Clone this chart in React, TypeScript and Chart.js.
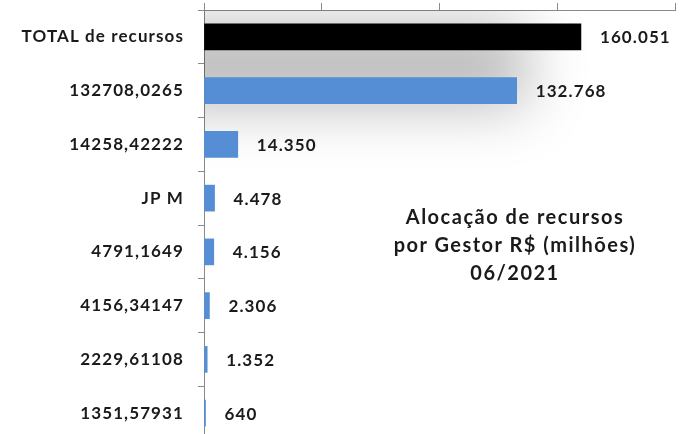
import React, { useEffect, useRef } from "react";
import { Chart, registerables } from "chart.js";

Chart.register(...registerables);

const categories = [
  "TOTAL de recursos",
  "132708,0265",
  "14258,42222",
  "JP M",
  "4791,1649",
  "4156,34147",
  "2229,61108",
  "1351,57931",
];
const values = [160051, 132768, 14350, 4478, 4156, 2306, 1352, 640];
const barColors = [
  "#000000",
  "#558ED5",
  "#558ED5",
  "#558ED5",
  "#558ED5",
  "#558ED5",
  "#558ED5",
  "#558ED5",
];
const titleLines = ["Alocação de recursos", "por Gestor R$ (milhões)", "06/2021"];
const xMax = 200000;
const xStep = 50000;

const FONT = "Lato, 'Open Sans', sans-serif";

function fmt(v: number): string {
  return String(Math.round(v)).replace(/\B(?=(\d{3})+(?!\d))/g, ".");
}

const spacingPlugin = {
  id: "spacing",
  beforeDraw(chart: any) {
    (chart.ctx as any).letterSpacing = "1.1px";
  },
};

const glowPlugin = {
  id: "glow",
  beforeDatasetsDraw(chart: any) {
    const { ctx, chartArea } = chart;
    const xs = chart.scales.x;
    const ys = chart.scales.y;
    ctx.save();
    ctx.beginPath();
    ctx.rect(chartArea.left, chartArea.top, chartArea.right - chartArea.left, chartArea.bottom - chartArea.top);
    ctx.clip();
    const x0 = xs.getPixelForValue(0) - 60;
    const x1 = xs.getPixelForValue(values[1]) + 10;
    const y0 = ys.getPixelForValue(0) - 12;
    const y1 = ys.getPixelForValue(1) + 15;
    const off = 10000;
    ctx.shadowColor = "rgba(0,0,0,0.28)";
    ctx.shadowBlur = 60;
    ctx.shadowOffsetX = off;
    ctx.fillStyle = "#000";
    ctx.fillRect(x0 - off, y0, x1 - x0, y1 - y0);
    ctx.restore();
  },
};

const valueLabelPlugin = {
  id: "valueLabels",
  afterDatasetsDraw(chart: any) {
    const { ctx } = chart;
    const meta = chart.getDatasetMeta(0);
    ctx.save();
    ctx.font = `bold 17px ${FONT}`;
    (ctx as any).letterSpacing = "1.1px";
    ctx.fillStyle = "#1a1a1a";
    ctx.textAlign = "left";
    ctx.textBaseline = "middle";
    meta.data.forEach((bar: any, i: number) => {
      ctx.fillText(fmt(values[i]), bar.x + 19, bar.y + 1);
    });
    ctx.restore();
  },
};

export default function App() {
  const ref = useRef<HTMLCanvasElement | null>(null);
  useEffect(() => {
    if (!ref.current) return;
    const chart = new Chart(ref.current, {
      type: "bar",
      data: {
        labels: categories,
        datasets: [
          {
            data: values,
            backgroundColor: barColors,
            borderWidth: 0,
            barThickness: 26,
          },
        ],
      },
      plugins: [spacingPlugin, glowPlugin, valueLabelPlugin],
      options: {
        indexAxis: "y",
        animation: false,
        responsive: false,
        devicePixelRatio: 1,
        events: [],
        layout: { padding: { top: 3, right: 11, left: 0, bottom: 0 } },
        plugins: {
          legend: { display: false },
          tooltip: { enabled: false },
          title: { display: false },
        },
        scales: {
          x: {
            position: "top",
            min: 0,
            max: xMax,
            ticks: { display: false, stepSize: xStep },
            grid: {
              drawOnChartArea: false,
              drawTicks: true,
              tickLength: 7,
              color: "#8a8a8a",
            },
            border: { display: true, color: "#8a8a8a", width: 1 },
          },
          y: {
            position: "left",
            ticks: {
              color: "#1a1a1a",
              font: { family: FONT, size: 17, weight: "bold" },
              padding: 14,
            },
            grid: {
              drawOnChartArea: false,
              drawTicks: true,
              tickLength: 6,
              offset: true,
              color: "#8a8a8a",
            },
            border: { display: true, color: "#8a8a8a", width: 1 },
            afterFit(scale: any) {
              scale.width = 204;
              scale.paddingTop = 0;
              scale.paddingBottom = 0;
            },
          },
        },
      },
    } as any);
    return () => chart.destroy();
  }, []);

  return (
    <div
      style={{
        position: "fixed",
        top: 0,
        left: 0,
        width: 686,
        height: 434,
        overflow: "hidden",
        background: "#ffffff",
      }}
    >
      <canvas ref={ref} width={686} height={440} style={{ display: "block" }} />
      <div
        style={{
          position: "absolute",
          left: 365,
          top: 202,
          width: 300,
          textAlign: "center",
          fontFamily: FONT,
          fontWeight: "bold",
          fontSize: 20,
          letterSpacing: "1.5px",
          lineHeight: "28px",
          color: "#1a1a1a",
        }}
      >
        {titleLines.map((t, i) => (
          <div key={i}>{t}</div>
        ))}
      </div>
    </div>
  );
}
